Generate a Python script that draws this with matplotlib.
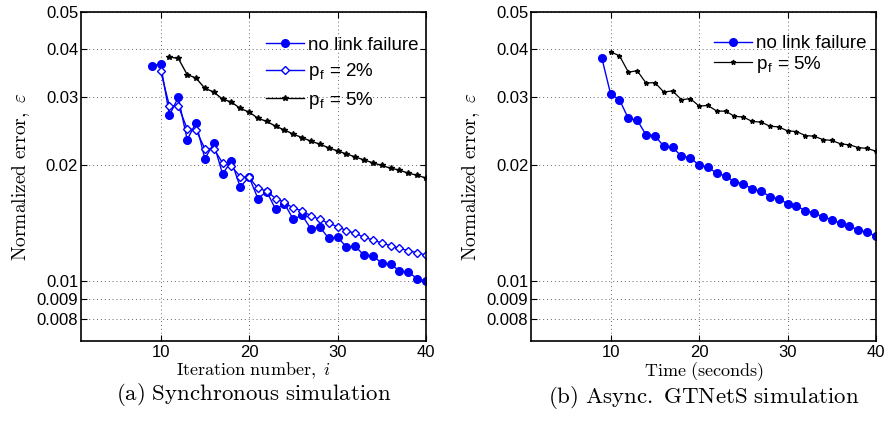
import matplotlib
matplotlib.use("Agg")
import matplotlib.pyplot as plt
from matplotlib.ticker import FixedLocator, FixedFormatter, NullLocator

plt.rcParams['mathtext.fontset'] = 'cm'
plt.rcParams['font.family'] = ['Liberation Sans', 'DejaVu Sans']

# ---- Data: (a) synchronous simulation ----
sync_nofail_x = list(range(9, 41))
sync_nofail_y = [0.0363, 0.0366, 0.0270, 0.0300, 0.0233, 0.0258, 0.0208, 0.0228,
                 0.0190, 0.0205, 0.01757, 0.01866, 0.0164, 0.0171, 0.01538, 0.0159,
                 0.01449, 0.01484, 0.01367, 0.01383, 0.01293, 0.01303, 0.01228, 0.01233,
                 0.01168, 0.01166, 0.01114, 0.01109, 0.01064, 0.01057, 0.01016, 0.01002]

sync_pf2_x = list(range(10, 41))
sync_pf2_y = [0.0352, 0.0285, 0.0285, 0.0249, 0.0247, 0.0221, 0.0221, 0.0203,
              0.0199, 0.0187, 0.0186, 0.01744, 0.01715, 0.01640, 0.01604, 0.01547,
              0.01526, 0.01478, 0.01449, 0.01414, 0.01387, 0.01354, 0.01332, 0.01301,
              0.01280, 0.01257, 0.01238, 0.01218, 0.01201, 0.01187, 0.01170]

sync_pf5_x = list(range(11, 41))
sync_pf5_y = [0.0382, 0.0379, 0.0344, 0.0337, 0.0317, 0.0310, 0.0297, 0.0292,
              0.0281, 0.0275, 0.0265, 0.0260, 0.02527, 0.0247, 0.0241, 0.0236,
              0.0231, 0.0227, 0.0222, 0.0218, 0.02141, 0.02103, 0.02065, 0.0203,
              0.01998, 0.01966, 0.01943, 0.01908, 0.01885, 0.01854]

# ---- Data: (b) async GTNetS simulation ----
async_nofail_x = list(range(9, 41))
async_nofail_y = [0.0380, 0.0306, 0.0296, 0.02646, 0.0262, 0.0240, 0.0239, 0.0224,
                  0.0223, 0.0211, 0.02095, 0.0200, 0.0198, 0.01905, 0.01877, 0.0181,
                  0.01793, 0.01734, 0.01713, 0.0166, 0.01636, 0.01591, 0.01569, 0.01526,
                  0.01504, 0.01469, 0.01446, 0.01413, 0.0139, 0.01359, 0.0134, 0.01309]

async_pf5_x = list(range(10, 41))
async_pf5_y = [0.0394, 0.0385, 0.0349, 0.0352, 0.0327, 0.0328, 0.0310, 0.0312,
               0.0296, 0.0298, 0.0285, 0.0286, 0.02765, 0.02765, 0.0268, 0.0267,
               0.02599, 0.0259, 0.02527, 0.02516, 0.02457, 0.02448, 0.0239, 0.0238,
               0.02333, 0.0232, 0.02274, 0.0226, 0.02224, 0.02212, 0.02176]

yticks = [0.008, 0.009, 0.01, 0.02, 0.03, 0.04, 0.05]
ytick_labels = ['0.008', '0.009', '0.01', '0.02', '0.03', '0.04', '0.05']
xticks = [10, 20, 30, 40]
xtick_labels = ['10', '20', '30', '40']

ylabel = r'$\mathrm{Normalized\ error,}\ \varepsilon$'
xlabels = [r'$\mathrm{Iteration\ number,}\ i$', r'$\mathrm{Time\ (seconds)}$']
captions = [r'$\mathrm{(a)\ Synchronous\ simulation}$',
            r'$\mathrm{(b)\ Async.\ GTNetS\ simulation}$']

fig = plt.figure(figsize=(8.91, 4.23), dpi=100)
ax1 = fig.add_axes([0.0909, 0.1939, 0.3872, 0.7777])
ax2 = fig.add_axes([0.5960, 0.1939, 0.3872, 0.7777])

ax1.plot(sync_nofail_x, sync_nofail_y, color='#0000ff', lw=1.0, marker='o',
         markersize=5.5, markerfacecolor='#0000ff', markeredgecolor='#0000ff',
         label='no link failure')
ax1.plot(sync_pf2_x, sync_pf2_y, color='#0000ff', lw=1.0, marker='D',
         markersize=4.5, markerfacecolor='white', markeredgecolor='#0000ff',
         markeredgewidth=1.0, label=r'p$_\mathregular{f}$ = 2%')
ax1.plot(sync_pf5_x, sync_pf5_y, color='black', lw=1.0, marker='*',
         markersize=4.0, markerfacecolor='black', markeredgecolor='black',
         label=r'p$_\mathregular{f}$ = 5%')

ax2.plot(async_nofail_x, async_nofail_y, color='#0000ff', lw=1.0, marker='o',
         markersize=5.5, markerfacecolor='#0000ff', markeredgecolor='#0000ff',
         label='no link failure')
ax2.plot(async_pf5_x, async_pf5_y, color='black', lw=0.9, marker='*',
         markersize=3.5, markerfacecolor='black', markeredgecolor='black',
         label=r'p$_\mathregular{f}$ = 5%')

axes = [ax1, ax2]
for i, ax in enumerate(axes):
    ax.set_yscale('log')
    ax.set_ylim(0.007, 0.05)
    ax.set_xlim(1, 40)
    ax.yaxis.set_major_locator(FixedLocator(yticks))
    ax.yaxis.set_major_formatter(FixedFormatter(ytick_labels))
    ax.yaxis.set_minor_locator(NullLocator())
    ax.xaxis.set_major_locator(FixedLocator(xticks))
    ax.xaxis.set_major_formatter(FixedFormatter(xtick_labels))
    ax.tick_params(direction='in', length=4, width=0.8, top=True, right=True,
                   labelsize=12, pad=2)
    ax.tick_params(axis='x', pad=3)
    ax.grid(True, which='major', linestyle=(0, (1, 3)), color='#666666', lw=0.7)
    for s in ax.spines.values():
        s.set_linewidth(1.2)
    ax.set_ylabel(ylabel, fontsize=14, labelpad=3)
    ax.set_xlabel(xlabels[i], fontsize=13, va='top')

ax1.legend(loc='upper right', bbox_to_anchor=(1.015, 0.965), frameon=False,
           fontsize=13.5, handlelength=2.0, handletextpad=0.2,
           labelspacing=0.4, borderaxespad=0.3)
ax2.legend(loc='upper right', bbox_to_anchor=(1.009, 0.97), frameon=False,
           fontsize=13.5, handlelength=2.0, handletextpad=0.2,
           labelspacing=0.1, borderaxespad=0.3)

# Stack tick labels, x label and caption tightly without overlap
fig.canvas.draw()
r = fig.canvas.get_renderer()
for i, ax in enumerate(axes):
    inv = ax.transAxes.inverted()
    y_tick_bottom = min(t.get_window_extent(r).y0 for t in ax.get_xticklabels())
    ya = inv.transform((0, y_tick_bottom - 0.5))[1]
    ax.xaxis.set_label_coords(0.5, ya)
    fig.canvas.draw()
    y_lab_bottom = ax.xaxis.label.get_window_extent(r).y0
    yc = inv.transform((0, y_lab_bottom - 0.5))[1]
    ax.text(0.5, yc, captions[i], transform=ax.transAxes, ha='center',
            va='top', fontsize=16.5)

fig.savefig('out.png', dpi=100)
